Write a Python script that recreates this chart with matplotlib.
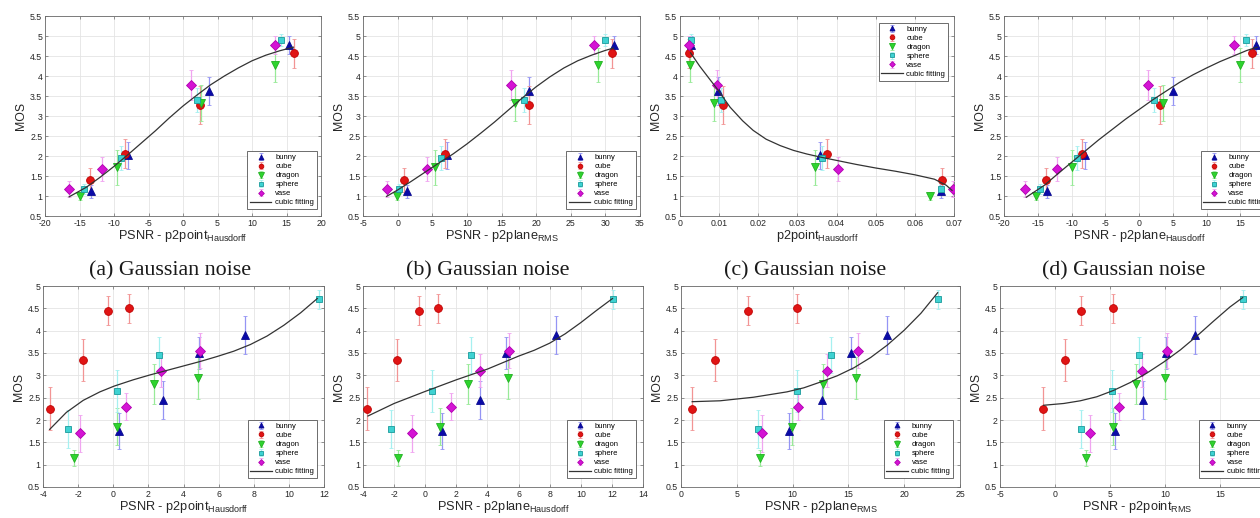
import matplotlib
matplotlib.use("Agg")
import numpy as np
import matplotlib.pyplot as plt
from matplotlib.ticker import FuncFormatter, FixedLocator

plt.rcParams.update({"font.family": ["Liberation Sans", "DejaVu Sans"],
                     "mathtext.fontset": "custom", "mathtext.rm": "Liberation Sans"})

W, H = 1260, 518

OBJECTS = ["bunny", "cube", "dragon", "sphere", "vase"]
MARKERS = ["^", "o", "v", "s", "D"]
SIZES = [6.0, 5.6, 6.4, 5.0, 4.8]
FACE = ["#0a0aa8", "#e01414", "#2ed42e", "#3ed2d2", "#d414d4"]
EDGE = ["#0a0a90", "#c00000", "#20b020", "#1a9a9a", "#b000b0"]
ERRC = ["#9494f4", "#f29494", "#98ea98", "#a6f0f0", "#f0a4f0"]

# ---- top row: MOS and CI half widths (bunny, cube, dragon, sphere, vase) ----
mos_top = [[1.12, 2.02, 3.63, 4.78],
           [1.39, 2.06, 3.28, 4.57],
           [1.00, 1.72, 3.32, 4.28],
           [1.17, 1.95, 3.40, 4.90],
           [1.17, 1.67, 3.78, 4.78]]
ci_top = [[0.16, 0.34, 0.35, 0.22],
          [0.30, 0.36, 0.48, 0.36],
          [0.10, 0.44, 0.45, 0.42],
          [0.12, 0.30, 0.30, 0.15],
          [0.20, 0.30, 0.37, 0.22]]

x_top_a = [[-13.3, -7.9, 3.7, 15.4],
           [-13.5, -8.4, 2.5, 16.1],
           [-15.0, -9.6, 2.6, 13.4],
           [-14.3, -9.0, 2.0, 14.2],
           [-16.5, -11.7, 1.1, 13.4]]
x_top_b = [[1.3, 7.1, 19.0, 31.2],
           [0.9, 6.9, 19.0, 31.0],
           [-0.1, 5.4, 17.0, 29.0],
           [0.2, 6.3, 18.2, 30.0],
           [-1.6, 4.2, 16.4, 28.4]]
x_top_c = [[0.0667, 0.0358, 0.0096, 0.0028],
           [0.0669, 0.0375, 0.0109, 0.0024],
           [0.0639, 0.0345, 0.0087, 0.0026],
           [0.0667, 0.0363, 0.0104, 0.0027],
           [0.0697, 0.0403, 0.0094, 0.0024]]
x_top_d = [[-13.6, -8.0, 5.1, 17.4],
           [-13.75, -8.5, 3.1, 16.8],
           [-15.3, -9.9, 3.6, 14.9],
           [-14.7, -9.2, 2.2, 15.8],
           [-16.9, -12.1, 1.35, 14.1]]

# ---- bottom row ----
mos_bot = [[1.75, 2.45, 3.50, 3.90],
           [2.25, 3.35, 4.45, 4.50],
           [1.15, 1.85, 2.80, 2.95],
           [1.80, 2.65, 3.45, 4.70],
           [1.70, 2.30, 3.10, 3.55]]
ci_bot = [[0.40, 0.42, 0.36, 0.43],
          [0.48, 0.47, 0.32, 0.32],
          [0.17, 0.41, 0.45, 0.47],
          [0.42, 0.48, 0.40, 0.22],
          [0.41, 0.30, 0.37, 0.39]]

x_bot_a = [[0.34, 2.82, 4.90, 7.49],
           [-3.62, -1.71, -0.32, 0.90],
           [-2.25, 0.19, 2.32, 4.82],
           [-2.57, 0.19, 2.61, 11.7],
           [-1.90, 0.72, 2.72, 4.95]]
x_bot_b = [[1.05, 3.52, 5.17, 8.39],
           [-3.72, -1.79, -0.43, 0.79],
           [-1.74, 0.98, 2.77, 5.34],
           [-2.17, 0.45, 2.92, 12.04],
           [-0.84, 1.67, 3.52, 5.39]]
x_bot_c = [[9.67, 12.6, 15.26, 18.49],
           [1.0, 3.02, 6.04, 10.42],
           [7.07, 9.94, 12.75, 15.71],
           [6.86, 10.42, 13.41, 23.0],
           [7.25, 10.48, 13.11, 15.86]]
x_bot_d = [[5.48, 7.97, 10.1, 12.76],
           [-1.09, 0.88, 2.36, 5.24],
           [2.85, 5.27, 7.36, 9.97],
           [2.39, 5.18, 7.67, 17.06],
           [3.15, 5.85, 7.88, 10.18]]

# ---- cubic fitting curves ----
fit_top_a_x = [-16.5, -14, -12, -10, -8, -6, -4, -2, 0, 2, 4, 6, 8, 10, 12, 14, 16]
fit_top_a_y = [0.98, 1.22, 1.47, 1.74, 2.03, 2.33, 2.63, 2.95, 3.25, 3.52, 3.78, 4.0,
               4.2, 4.38, 4.52, 4.63, 4.72]
fit_top_b_x = [-1.6, 0, 2, 4, 6, 8, 10, 12, 14, 16, 18, 20, 22, 24, 26, 28, 30, 31.2]
fit_top_b_y = [0.99, 1.15, 1.37, 1.6, 1.83, 2.05, 2.3, 2.57, 2.85, 3.15, 3.45, 3.73,
               3.98, 4.2, 4.38, 4.52, 4.64, 4.7]
fit_top_c_x = [0.0027, 0.005, 0.0075, 0.0094, 0.0128, 0.016, 0.0187, 0.022, 0.0256,
               0.029, 0.0324, 0.036, 0.04, 0.045, 0.05, 0.055, 0.06, 0.065, 0.068, 0.0695]
fit_top_c_y = [4.58, 4.25, 3.93, 3.69, 3.22, 2.88, 2.64, 2.42, 2.26, 2.14, 2.05, 1.97,
               1.89, 1.79, 1.7, 1.62, 1.53, 1.42, 1.27, 1.14]
fit_top_d_x = [-16.7, -14, -12, -10, -8, -6, -4, -2, 0, 2, 4, 6, 8, 10, 12, 14, 16, 17.5]
fit_top_d_y = [0.97, 1.27, 1.56, 1.84, 2.12, 2.4, 2.66, 2.92, 3.16, 3.4, 3.62, 3.84,
               4.03, 4.2, 4.36, 4.5, 4.64, 4.72]

fit_bot_a_x = [-3.62, -2.67, -1.71, -0.76, 0.06, 1.14, 2.1, 3.05, 4.0, 4.95, 5.9, 6.86,
               7.81, 8.76, 9.71, 10.67, 11.62]
fit_bot_a_y = [1.79, 2.17, 2.44, 2.63, 2.76, 2.9, 3.01, 3.11, 3.21, 3.31, 3.42, 3.54,
               3.69, 3.88, 4.12, 4.4, 4.72]
fit_bot_b_x = [-3.68, -2, 0, 2, 4, 6, 7, 8, 9, 10, 11, 12.04]
fit_bot_b_y = [2.09, 2.37, 2.64, 2.9, 3.14, 3.43, 3.56, 3.72, 3.93, 4.18, 4.45, 4.72]
fit_bot_c_x = [1.0, 3.5, 6.5, 9.5, 11, 12.5, 14, 15.5, 17, 18.5, 20, 21.5, 23]
fit_bot_c_y = [2.41, 2.43, 2.51, 2.63, 2.72, 2.85, 2.99, 3.17, 3.4, 3.68, 4.01, 4.39, 4.85]
fit_bot_d_x = [-1.03, 0.8, 2.3, 3.8, 5.3, 6.85, 8.35, 9.9, 11.4, 12.9, 14.4, 15.9, 17.06]
fit_bot_d_y = [2.33, 2.37, 2.43, 2.52, 2.66, 2.84, 3.05, 3.3, 3.57, 3.88, 4.21, 4.53, 4.74]

xlabels_top = ["PSNR - p2point$_{\\mathregular{Hausdorff}}$",
               "PSNR - p2plane$_{\\mathregular{RMS}}$",
               "p2point$_{\\mathregular{Hausdorff}}$",
               "PSNR - p2plane$_{\\mathregular{Hausdorff}}$"]
xlabels_bot = ["PSNR - p2point$_{\\mathregular{Hausdorff}}$",
               "PSNR - p2plane$_{\\mathregular{Hausdorff}}$",
               "PSNR - p2plane$_{\\mathregular{RMS}}$",
               "PSNR - p2point$_{\\mathregular{RMS}}$"]
captions = ["(a) Gaussian noise", "(b) Gaussian noise", "(c) Gaussian noise",
            "(d) Gaussian noise"]

fig = plt.figure(figsize=(W / 100, H / 100), dpi=100)
fig.patch.set_facecolor("white")


def px_axes(l, t, r, b):
    return fig.add_axes([l / W, 1 - b / H, (r - l) / W, (b - t) / H])


fmt = FuncFormatter(lambda v, p: f"{v:g}")


def panel(box, xs, mos, ci, fx, fy, xlim, xticks, ylim, yticks, xlabel, loc, anchor):
    ax = px_axes(*box)
    handles = []
    for i in range(5):
        h = ax.errorbar(xs[i], mos[i], yerr=ci[i], fmt=MARKERS[i], ms=SIZES[i],
                        mfc=FACE[i], mec=EDGE[i], mew=0.6, ecolor=ERRC[i],
                        elinewidth=0.9, capsize=1.6, capthick=0.8, zorder=3,
                        label=OBJECTS[i])
        handles.append(h)
    line, = ax.plot(fx, fy, color="#333333", lw=0.9, zorder=4, label="cubic fitting")
    handles.append(line)
    ax.set_xlim(*xlim)
    ax.set_ylim(*ylim)
    ax.xaxis.set_major_locator(FixedLocator(xticks))
    ax.yaxis.set_major_locator(FixedLocator(yticks))
    ax.xaxis.set_major_formatter(fmt)
    ax.yaxis.set_major_formatter(fmt)
    ax.grid(True, color="#e4e4e4", lw=0.6)
    ax.set_axisbelow(True)
    for s in ax.spines.values():
        s.set_color("#6a6a6a")
        s.set_linewidth(0.6)
    ax.tick_params(direction="in", length=2.5, width=0.5, color="#6a6a6a",
                   labelcolor="#262626", labelsize=6.3, top=True, right=True, pad=2)
    ax.set_xlabel(xlabel, fontsize=9.2, color="#262626", labelpad=0)
    ax.set_ylabel("MOS", fontsize=8.8, color="#262626", labelpad=2)
    leg = ax.legend(handles=handles, loc=loc, bbox_to_anchor=anchor, borderaxespad=0,
                    fontsize=5.5, markerscale=0.6, handlelength=2.8, handletextpad=0.5,
                    labelspacing=0.22, borderpad=0.35, fancybox=False, framealpha=1)
    leg.get_frame().set_edgecolor("#555555")
    leg.get_frame().set_linewidth(0.6)
    return ax


ty = [0.5 + 0.5 * k for k in range(11)]
by = [0.5 + 0.5 * k for k in range(10)]

panel((45, 16, 321, 216), x_top_a, mos_top, ci_top, fit_top_a_x, fit_top_a_y,
      (-20, 20), list(range(-20, 21, 5)), (0.5, 5.5), ty, xlabels_top[0],
      "lower right", (0.985, 0.035))
panel((363, 16, 640, 216), x_top_b, mos_top, ci_top, fit_top_b_x, fit_top_b_y,
      (-5, 35), list(range(-5, 36, 5)), (0.5, 5.5), ty, xlabels_top[1],
      "lower right", (0.985, 0.035))
panel((680, 16, 954, 216), x_top_c, mos_top, ci_top, fit_top_c_x, fit_top_c_y,
      (0, 0.07), [0.01 * k for k in range(8)], (0.5, 5.5), ty, xlabels_top[2],
      "upper right", (0.978, 0.965))
panel((1004, 16, 1274, 216), x_top_d, mos_top, ci_top, fit_top_d_x, fit_top_d_y,
      (-20, 20), list(range(-20, 21, 5)), (0.5, 5.5), ty, xlabels_top[3],
      "lower right", (0.985, 0.035))

panel((43, 286, 324, 487), x_bot_a, mos_bot, ci_bot, fit_bot_a_x, fit_bot_a_y,
      (-4, 12), list(range(-4, 13, 2)), (0.5, 5), by, xlabels_bot[0],
      "lower right", (0.975, 0.045))
panel((363, 286, 643, 487), x_bot_b, mos_bot, ci_bot, fit_bot_b_x, fit_bot_b_y,
      (-4, 14), list(range(-4, 15, 2)), (0.5, 5), by, xlabels_bot[1],
      "lower right", (0.975, 0.045))
panel((681, 286, 960, 487), x_bot_c, mos_bot, ci_bot, fit_bot_c_x, fit_bot_c_y,
      (0, 25), list(range(0, 26, 5)), (0.5, 5), by, xlabels_bot[2],
      "lower right", (0.975, 0.045))
panel((1000, 286, 1275, 487), x_bot_d, mos_bot, ci_bot, fit_bot_d_x, fit_bot_d_y,
      (-5, 20), list(range(-5, 21, 5)), (0.5, 5), by, xlabels_bot[3],
      "lower right", (0.975, 0.045))

for cx, txt in zip([170, 488, 805, 1124], captions):
    fig.text(cx / W, 1 - 275 / H, txt, ha="center", va="baseline",
             family=["Liberation Serif", "DejaVu Serif"], fontsize=15.8, color="#1a1a1a")

fig.savefig("out.png", dpi=100, facecolor="white")
